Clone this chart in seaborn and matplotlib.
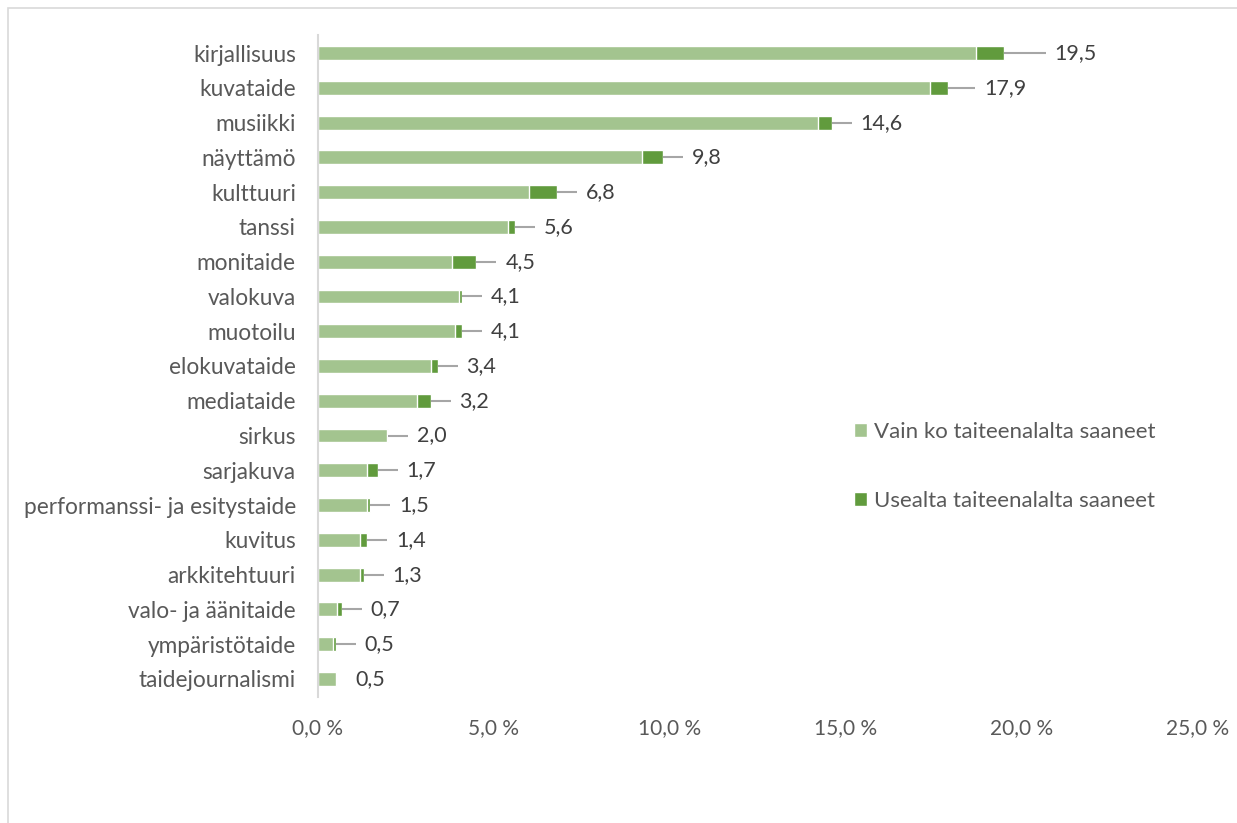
import numpy as np
import pandas as pd
import matplotlib.pyplot as plt
import seaborn as sns
from matplotlib.patches import Rectangle

# Data (percent)
categories = [
    "kirjallisuus", "kuvataide", "musiikki", "näyttämö", "kulttuuri", "tanssi",
    "monitaide", "valokuva", "muotoilu", "elokuvataide", "mediataide", "sirkus",
    "sarjakuva", "performanssi- ja esitystaide", "kuvitus", "arkkitehtuuri",
    "valo- ja äänitaide", "ympäristötaide", "taidejournalismi",
]
only_one = [18.7, 17.4, 14.2, 9.2, 6.0, 5.4, 3.8, 4.0, 3.9, 3.2, 2.8, 1.95,
            1.4, 1.4, 1.2, 1.2, 0.55, 0.43, 0.5]
several = [0.8, 0.5, 0.4, 0.6, 0.8, 0.2, 0.7, 0.1, 0.2, 0.2, 0.4, 0.05,
           0.3, 0.08, 0.2, 0.1, 0.13, 0.07, 0.0]
total_labels = ["19,5", "17,9", "14,6", "9,8", "6,8", "5,6", "4,5", "4,1", "4,1",
                "3,4", "3,2", "2,0", "1,7", "1,5", "1,4", "1,3", "0,7", "0,5", "0,5"]
series_names = ["Vain ko taiteenalalta saaneet", "Usealta taiteenalalta saaneet"]
x_ticks = [0, 5, 10, 15, 20, 25]

df = pd.DataFrame({"ala": categories, "yksi": only_one, "useampi": several})
df["yhteensa"] = df["yksi"] + df["useampi"]

LIGHT = "#A3C48F"
DARK = "#619B3D"
TEXT = "#404040"
SOFT = "#595959"
GREY = "#A6A6A6"

sns.set_style("white")
plt.rcParams["font.family"] = ["Lato", "DejaVu Sans"]

fig = plt.figure(figsize=(12.37, 8.23), dpi=100)
ax = fig.add_axes([318 / 1237, 1 - 697 / 823, 880 / 1237, 662 / 823])

# stacked bars: total in dark green, single-field part drawn over it
sns.barplot(data=df, y="ala", x="yhteensa", color=DARK, width=0.4,
            orient="h", ax=ax, saturation=1, label=series_names[1])
sns.barplot(data=df, y="ala", x="yksi", color=LIGHT, width=0.4,
            orient="h", ax=ax, saturation=1, label=series_names[0])

# data labels with leader lines
extra = {0: 0.6, 1: 0.2}
for i, row in df.iterrows():
    end = row["yhteensa"]
    off = 0.82 + extra.get(i, 0)
    if row["useampi"] > 0:
        ax.plot([end, end + off - 0.25], [i, i], color=GREY, lw=1.5,
                solid_capstyle="butt", zorder=1)
    else:
        off = 0.57
    ax.text(end + off, i, total_labels[i], va="center", ha="left",
            fontsize=15.5, color=TEXT)

ax.set_xlim(0, 25)
ax.set_ylim(18.52, -0.52)
ax.set_xticks(x_ticks)
ax.set_xticklabels([f"{t:.1f} %".replace(".", ",") for t in x_ticks],
                   fontsize=15, color=SOFT)
ax.tick_params(axis="x", length=0, pad=15)
ax.tick_params(axis="y", length=0, pad=16, labelsize=16.3, labelcolor=SOFT)
ax.set_xlabel("")
ax.set_ylabel("")
for side in ["top", "right", "bottom"]:
    ax.spines[side].set_visible(False)
ax.spines["left"].set_color("#D9D9D9")
ax.spines["left"].set_linewidth(1.5)

handles, labels = ax.get_legend_handles_labels()
order = [labels.index(n) for n in series_names]
leg = fig.legend([handles[k] for k in order], [labels[k] for k in order],
                 loc="upper left", bbox_to_anchor=(854 / 1237, 1 - 422 / 823),
                 frameon=False, fontsize=16, handlelength=0.6, handleheight=0.6,
                 handletextpad=0.3, labelspacing=2.2, borderaxespad=0,
                 borderpad=0)
for t in leg.get_texts():
    t.set_color(SOFT)
if ax.get_legend() is not None:
    ax.get_legend().remove()

# chart border like the original
fig.patches.append(Rectangle((8 / 1237, -0.1), 1.2, 1 - 8 / 823 + 0.1,
                             transform=fig.transFigure, fill=False,
                             edgecolor="#D9D9D9", lw=1.2))

fig.savefig("out.png", dpi=100)
